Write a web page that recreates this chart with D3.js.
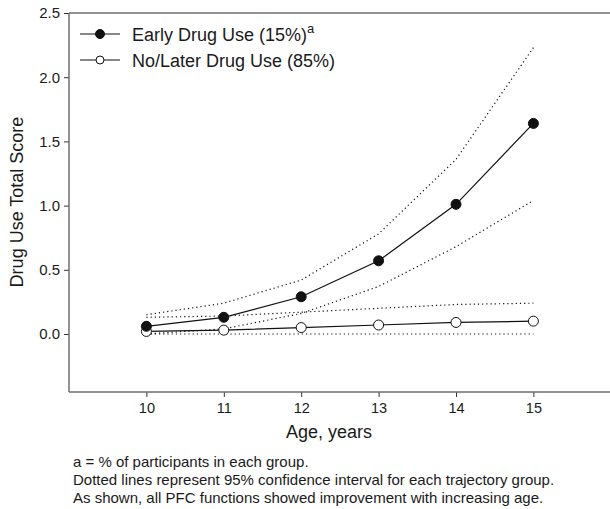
<!DOCTYPE html>
<html>
<head>
<meta charset="utf-8">
<script src="https://cdn.jsdelivr.net/npm/d3@7"></script>
<style>
  body { margin: 0; background: #fff; }
  text { font-family: "Liberation Sans", Arial, sans-serif; fill: #1a1a1a; }
</style>
</head>
<body>
<svg id="chart"></svg>
<script>
// data
var ages = [10, 11, 12, 13, 14, 15]
var earlyUse = [0.06, 0.13, 0.29, 0.57, 1.01, 1.64]
var earlyUpper = [0.15, 0.24, 0.42, 0.78, 1.36, 2.23]
var earlyLower = [0.00, 0.04, 0.16, 0.37, 0.68, 1.04]
var laterUse = [0.02, 0.03, 0.05, 0.07, 0.09, 0.10]
var laterUpper = [0.13, 0.14, 0.17, 0.20, 0.23, 0.24]
var laterLower = [0.00, 0.00, 0.00, 0.00, 0.00, 0.00]
var yTicks = [0.0, 0.5, 1.0, 1.5, 2.0, 2.5]
var notes = [
  "a = % of participants in each group.",
  "Dotted lines represent 95% confidence interval for each trajectory group.",
  "As shown, all PFC functions showed improvement with increasing age."
]

var width = 610,
  height = 509

var svg = d3.select("#chart")
  .attr("width", width)
  .attr("height", height)

var plotLeft = 69, plotRight = 610, plotTop = 13, plotBottom = 392

var x = d3.scaleLinear().domain([9, 16]).range([plotLeft, plotLeft + 7 * 77.4])
var y = d3.scaleLinear().domain([0, 2.5]).range([334, plotTop])

var axisColor = "#6e6e6e"

// top frame line
svg.append("line")
  .attr("x1", plotLeft).attr("x2", plotRight)
  .attr("y1", plotTop).attr("y2", plotTop)
  .style("stroke", axisColor).style("stroke-width", 1.5)

// y axis
var yAxis = svg.append("g")
  .attr("transform", "translate(" + plotLeft + ",0)")
  .call(d3.axisLeft(y).tickValues(yTicks).tickFormat(d3.format(".1f")).tickSize(5).tickSizeOuter(0))
yAxis.select(".domain").remove()
yAxis.append("line")
  .attr("y1", plotTop).attr("y2", plotBottom)
  .style("stroke", axisColor).style("stroke-width", 1.5)
yAxis.selectAll(".tick line").style("stroke", "#333")
yAxis.selectAll("text").style("font-size", "15px").attr("x", -9)

// x axis
var xAxis = svg.append("g")
  .attr("transform", "translate(0," + plotBottom + ")")
  .call(d3.axisBottom(x).tickValues(ages).tickFormat(d3.format("d")).tickSize(5).tickSizeOuter(0))
xAxis.select(".domain").remove()
xAxis.append("line")
  .attr("x1", plotLeft).attr("x2", plotRight)
  .style("stroke", axisColor).style("stroke-width", 1.5)
xAxis.selectAll(".tick line").style("stroke", "#333")
xAxis.selectAll("text").style("font-size", "14.5px").attr("y", 11)

// axis titles
svg.append("text")
  .attr("x", 329).attr("y", 438)
  .attr("text-anchor", "middle")
  .style("font-size", "18px")
  .text("Age, years")

svg.append("text")
  .attr("transform", "translate(23,202) rotate(-90)")
  .attr("text-anchor", "middle")
  .style("font-size", "18px")
  .text("Drug Use Total Score")

var line = d3.line()
  .x(function (d, i) { return x(ages[i]) })
  .y(function (d) { return y(d) })

// confidence intervals
var ciLines = [earlyUpper, earlyLower, laterUpper, laterLower]
svg.selectAll("path.ci")
  .data(ciLines)
  .enter()
  .append("path")
  .attr("class", "ci")
  .attr("d", line)
  .style("fill", "none")
  .style("stroke", "#111")
  .style("stroke-width", 1.2)
  .style("stroke-dasharray", "1.2,3")

// series lines
var series = [
  { values: laterUse, fill: "#fff" },
  { values: earlyUse, fill: "#111" }
]
series.forEach(function (s) {
  svg.append("path")
    .attr("d", line(s.values))
    .style("fill", "none")
    .style("stroke", "#111")
    .style("stroke-width", 1.2)
  svg.selectAll(null)
    .data(s.values)
    .enter()
    .append("circle")
    .attr("cx", function (d, i) { return x(ages[i]) })
    .attr("cy", function (d) { return y(d) })
    .attr("r", 5)
    .style("fill", s.fill)
    .style("stroke", "#111")
    .style("stroke-width", 1)
})

// legend
var legend = [
  { label: "Early Drug Use (15%)", sup: "a", fill: "#111", yPos: 34 },
  { label: "No/Later Drug Use (85%)", sup: "", fill: "#fff", yPos: 60 }
]
legend.forEach(function (l) {
  svg.append("line")
    .attr("x1", 80).attr("x2", 120)
    .attr("y1", l.yPos).attr("y2", l.yPos)
    .style("stroke", "#111").style("stroke-width", 1.2)
  svg.append("circle")
    .attr("cx", 100).attr("cy", l.yPos).attr("r", l.fill === "#111" ? 4.5 : 4)
    .style("fill", l.fill).style("stroke", "#111")
  var t = svg.append("text")
    .attr("x", 132).attr("y", l.yPos + 7)
    .style("font-size", "18px")
    .text(l.label)
  if (l.sup) {
    t.append("tspan")
      .attr("dy", -8)
      .style("font-size", "13px")
      .text(l.sup)
  }
})

// footnotes
svg.selectAll("text.note")
  .data(notes)
  .enter()
  .append("text")
  .attr("class", "note")
  .attr("x", 73)
  .attr("y", function (d, i) { return 467 + i * 18 })
  .style("font-size", "15px")
  .text(function (d) { return d })
</script>
</body>
</html>
